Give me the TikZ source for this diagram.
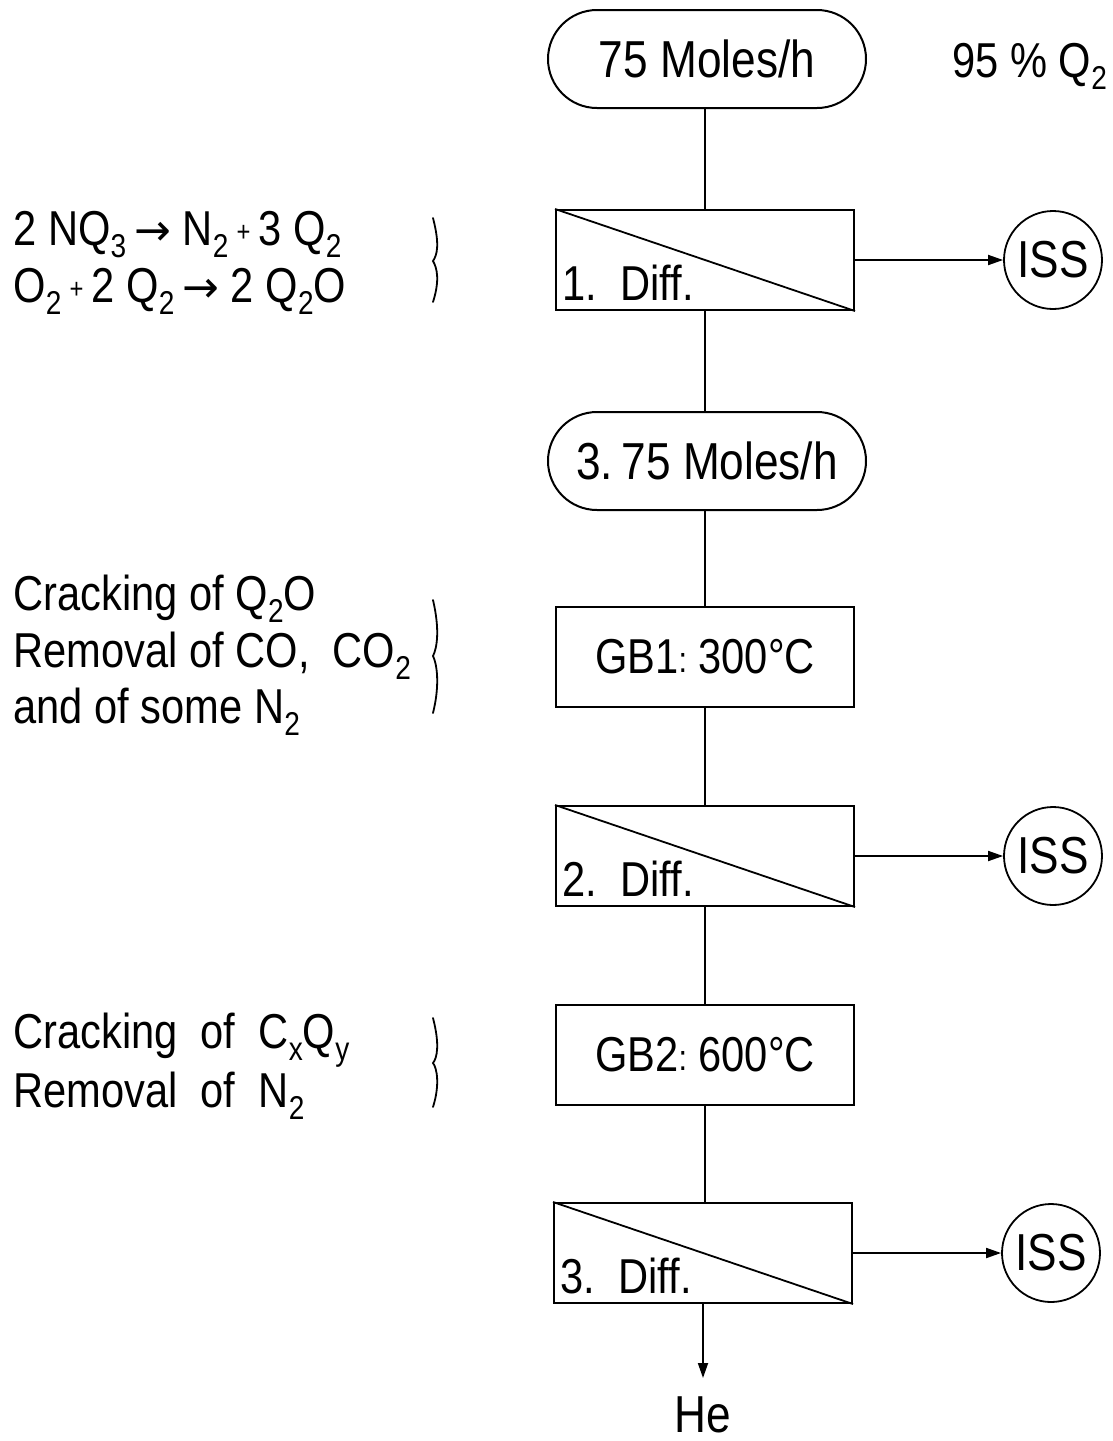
\documentclass[tikz,border=0pt]{standalone}
\usepackage{fontspec}
\setmainfont{Liberation Sans}[FakeStretch=0.85]
\newfontfamily\arrowfont{DejaVu Sans}
\usetikzlibrary{arrows.meta}
\newcommand\lo[1]{\raisebox{-6pt}{\fontsize{16.5}{16.5}\selectfont #1}}
\newcommand\plusx{\raisebox{2pt}{\fontsize{14}{14}\selectfont +}}
\newcommand\arr{{\arrowfont\fontsize{22}{22}\selectfont →}}
\newcommand\colx{\raisebox{0.5pt}{\fontsize{18}{18}\selectfont:}}
\begin{document}
\begin{tikzpicture}[x=0.5pt,y=-0.5pt,
  every node/.style={font=\fontsize{24.5}{24.5}\selectfont},
  pill/.style={draw,line width=1pt,rounded corners=24.5pt,minimum width=159pt,minimum height=49pt,inner sep=0pt,font=\fontsize{26}{26}\selectfont},
  unit/.style={draw,line width=1pt,minimum width=149pt,minimum height=50pt,inner sep=0pt},
  iss/.style={draw,circle,line width=0.9pt,minimum size=49pt,inner sep=0pt,font=\fontsize{26}{26}\selectfont},
  conn/.style={line width=0.9pt},
  arr/.style={line width=0.9pt,-{Triangle[length=7.5pt,width=5pt]}},
  txt/.style={anchor=base west,inner sep=0pt},
  brc/.style={line width=0.9pt,line cap=round}]
\useasboundingbox (0,0) rectangle (1113,1441);
% main column
\node[pill] (p1) at (707,59) {75 Moles/h};
\node[unit] (b1) at (705,260) {};
\node[pill] (p2) at (707,461) {3.\,75 Moles/h};
\node[unit] (g1) at (705,657) {GB1\colx\ 300°C};
\node[unit] (b2) at (705,856) {};
\node[unit] (g2) at (705,1055) {GB2\colx\ 600°C};
\node[unit] (b3) at (703,1253) {};
\node[txt] (pct) at (952,77) {95 \% Q\lo{2}};
% diff diagonals and labels
\draw[conn] (b1.north west) -- (b1.south east);
\draw[conn] (b2.north west) -- (b2.south east);
\draw[conn] (b3.north west) -- (b3.south east);
\node[txt] (d1) at (562,300) {1.\ \ Diff.};
\node[txt] (d2) at (562,896) {2.\ \ Diff.};
\node[txt] (d3) at (560,1293) {3.\ \ Diff.};
% ISS
\node[iss] (i1) at (1053,260) {ISS};
\node[iss] (i2) at (1053,856) {ISS};
\node[iss] (i3) at (1051,1253) {ISS};
\draw[arr] (b1.east) -- (i1.west);
\draw[arr] (b2.east) -- (i2.west);
\draw[arr] (b3.east) -- (i3.west);
% vertical connectors
\draw[conn] (p1.south -| b1.north) -- (b1.north);
\draw[conn] (b1.south) -- (p2.north -| b1.south);
\draw[conn] (p2.south -| g1.north) -- (g1.north);
\draw[conn] (g1.south) -- (b2.north);
\draw[conn] (b2.south) -- (g2.north);
\draw[conn] (g2.south) -- (b3.north -| g2.south);
\node[anchor=base,inner sep=0pt,font=\fontsize{26}{26}\selectfont] (he) at (703,1432) {He};
\coordinate (heend) at (703,1378);
\draw[arr] (b3.south) -- (heend);
% left notes
\node[txt] (e1) at (13,245) {2 NQ\lo{3}\,\arr\ N\lo{2}\,\plusx\,3 Q\lo{2}};
\node[txt] (e2) at (13,302) {O\lo{2}\,\plusx\,2 Q\lo{2}\,\arr\ 2 Q\lo{2}O};
\draw[brc] (433,218) .. controls (440,245) and (437,255) .. (433,261) .. controls (437,268) and (440,280) .. (433,302);
\node[txt] (c1) at (13,610) {Cracking of Q\lo{2}O};
\node[txt] (c2) at (13,667) {Removal of CO,\ \ CO\lo{2}};
\node[txt] (c3) at (13,723) {and of some N\lo{2}};
\draw[brc] (433,600) .. controls (440,630) and (437,648) .. (433,656) .. controls (437,664) and (440,685) .. (433,713);
\node[txt] (k1) at (13,1048) {Cracking\ \ of\ \ C\lo{x}Q\lo{y}};
\node[txt] (k2) at (13,1107) {Removal\ \ of\ \ N\lo{2}};
\draw[brc] (433,1018) .. controls (440,1045) and (437,1058) .. (433,1063) .. controls (437,1068) and (440,1085) .. (433,1107);
\end{tikzpicture}
\end{document}
